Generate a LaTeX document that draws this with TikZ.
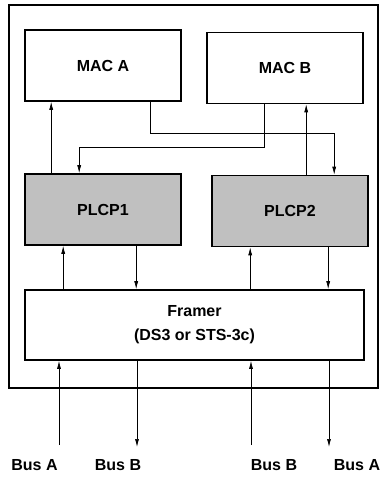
\documentclass[tikz,border=0pt]{standalone}
\usepackage{fontspec}
\setmainfont{Liberation Sans}
\usetikzlibrary{arrows.meta,
                positioning}
\definecolor{plcpgray}{RGB}{192,192,192}
\tikzset{block/.style =
   {rectangle,
    draw,
    line width=1.6pt,
    text centered,
    font=\fontsize{16}{24}\selectfont\bfseries,
    minimum width=156pt,
    minimum height=71pt}}
\tikzset{plcp-block/.style =
   {block,
    fill=plcpgray}}
\tikzset{bus-label/.style =
   {font=\fontsize{16}{18}\selectfont\bfseries,
    inner sep=0pt}}
\tikzset{arrow/.style = {draw, line width=0.7pt, -{Latex[length=8pt,width=4pt]}}}

\begin{document}
\begin{tikzpicture}[x=1pt, y=-1pt]

    \useasboundingbox (0,0) rectangle (382,479);

    % enclosing board
    \draw [line width=1.8pt] (9,5) rectangle (378,388);

    \node [block] (maca) at (103,65.5) {MAC A};
    \node [block] (macb) at (285,68) {MAC B};

    \node [plcp-block] (plcp1) at (103,209.5) {PLCP1};
    \node [plcp-block] (plcp2) at (290,211) {PLCP2};

    \node [block,
           align=center,
           minimum width=339pt,
           minimum height=70pt] (framer) at (194.5,325) {Framer\\(DS3 or STS-3c)};

    % bus labels
    \node [bus-label] (busa-in)  at (34.5,465) {Bus A};
    \node [bus-label] (busb-out) at (118,465)  {Bus B};
    \node [bus-label] (busb-in)  at (274,465)  {Bus B};
    \node [bus-label] (busa-out) at (357,465)  {Bus A};

    \coordinate (busa-in-end)  at (59,445);
    \coordinate (busb-out-end) at (137,447);
    \coordinate (busb-in-end)  at (251,445);
    \coordinate (busa-out-end) at (329,447);

    % MAC <-> PLCP
    \draw [arrow] ([xshift=27pt]plcp1.north west) -- ([xshift=27pt]plcp1.north west |- maca.south);
    \draw [arrow] ([xshift=126pt]maca.south west) -- ++(0,32) -| ([xshift=123pt]plcp2.north west);
    \draw [arrow] ([xshift=58pt]macb.south west) -- ++(0,43) -| ([xshift=55pt]plcp1.north west);
    \draw [arrow] ([xshift=95pt]plcp2.north west) -- ([xshift=95pt]plcp2.north west |- macb.south);

    % PLCP <-> Framer
    \draw [arrow] ([xshift=39pt]framer.north west) -- ([xshift=39pt]framer.north west |- plcp1.south);
    \draw [arrow] ([xshift=112pt]plcp1.south west) -- ([xshift=112pt]plcp1.south west |- framer.north);
    \draw [arrow] ([xshift=226pt]framer.north west) -- ([xshift=226pt]framer.north west |- plcp2.south);
    \draw [arrow] ([xshift=117pt]plcp2.south west) -- ([xshift=117pt]plcp2.south west |- framer.north);

    % Framer <-> buses
    \draw [arrow] (busa-in-end) -- (busa-in-end |- framer.south);
    \draw [arrow] (busb-out-end |- framer.south) -- (busb-out-end);
    \draw [arrow] (busb-in-end) -- (busb-in-end |- framer.south);
    \draw [arrow] (busa-out-end |- framer.south) -- (busa-out-end);

\end{tikzpicture}
\end{document}
